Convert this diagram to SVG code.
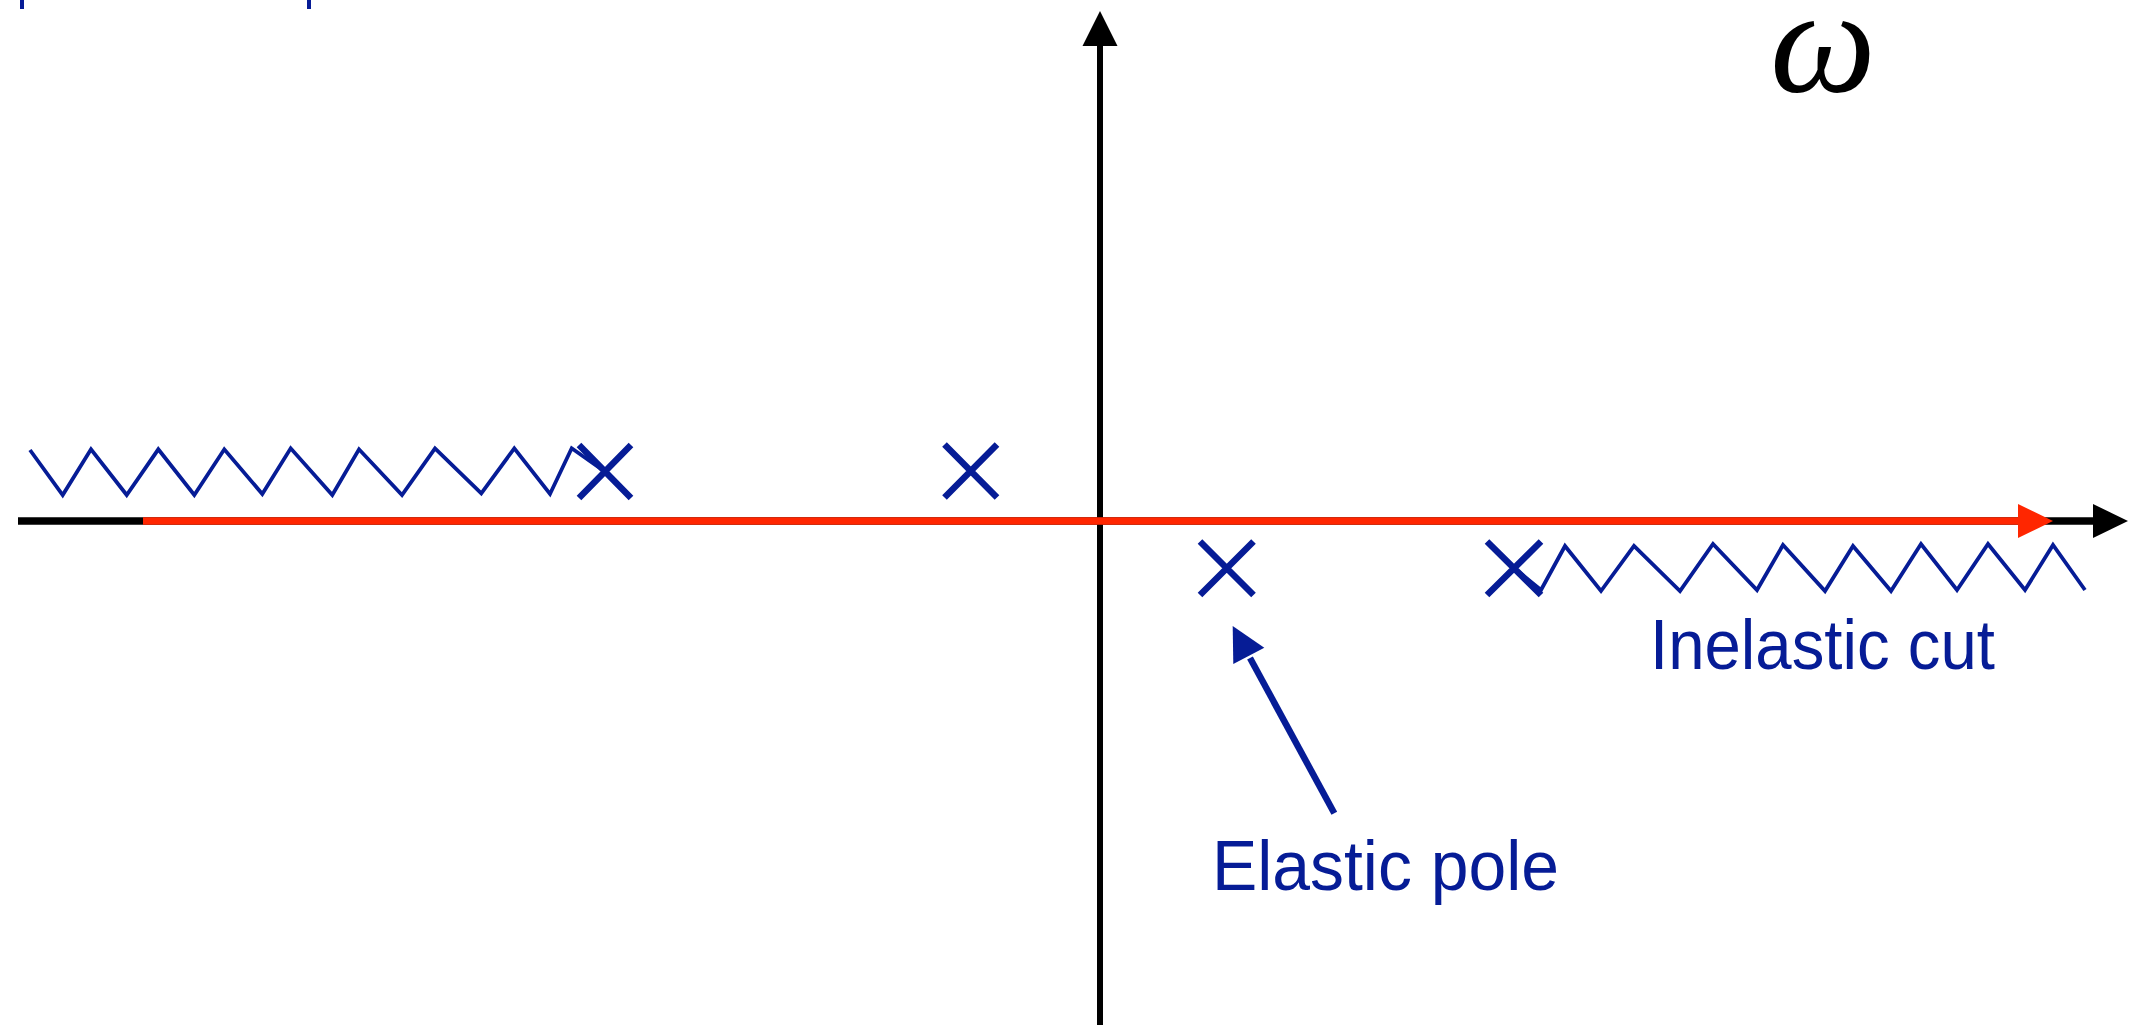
<svg xmlns="http://www.w3.org/2000/svg" width="2132" height="1025" viewBox="0 0 2132 1025">
<style>
.zig{fill:none;stroke:#061c96;stroke-width:3.8;stroke-linejoin:miter}
.pole{stroke:#061c96;stroke-width:6.5;fill:none}
.lbl{font-family:"Liberation Sans",Arial,sans-serif;font-size:71px;fill:#061c96}
.omega{font-family:"Liberation Serif","Times New Roman",serif;font-style:italic;font-size:150px;fill:#000}
</style>
<rect width="2132" height="1025" fill="#fff"/>
<g id="top-ticks" fill="#061c96">
<rect x="20" y="0" width="4" height="9"/>
<rect x="307" y="0" width="4" height="9"/>
</g>
<g id="connectors">
<line x1="18" y1="521" x2="2095" y2="521" stroke="#000" stroke-width="7.5"/>
<polygon points="2093,504 2128,521 2093,538" fill="#000"/>
<line x1="1100" y1="1025" x2="1100" y2="44" stroke="#000" stroke-width="6"/>
<polygon points="1082.5,46 1100,11 1117.5,46" fill="#000"/>
<line x1="143" y1="521" x2="2020" y2="521" stroke="#ff2600" stroke-width="7.5"/>
<polygon points="2018,504 2053,521 2018,538" fill="#ff2600"/>
<line x1="1334.3" y1="813.3" x2="1250" y2="658" stroke="#061c96" stroke-width="6.5"/>
<polygon points="1232.7,626 1233.3,664 1264.3,647.7" fill="#061c96"/>
</g>
<g id="left-cut">
<polyline class="zig" points="30,450 62.7,495 91,449.3 126.7,495 158.3,449.3 194.3,495 224.3,449.3 262.3,494 290.7,448.3 332.3,495 359,449.3 402,495 435,448.3 481.3,493.3 514.3,448.3 550,494 571.7,448.3 605,471.7"/>
</g>
<g id="right-cut">
<polyline class="zig" points="1514,568 1541,590 1565,546 1601,591 1634,546 1680,591 1713,544 1757,590 1783,545 1825,591 1853,546 1891,591 1921,544 1957,590 1988,544 2025,590 2053,545 2085,590"/>
</g>
<g id="pole1"><path class="pole" d="M579,445 L631,498 M631,445 L579,498"/></g>
<g id="pole2"><path class="pole" d="M944.5,444.5 L997,497.5 M997,444.5 L944.5,497.5"/></g>
<g id="pole3"><path class="pole" d="M1200,541.5 L1253.5,595 M1253.5,541.5 L1200,595"/></g>
<g id="pole4"><path class="pole" d="M1487,541.5 L1541,595 M1541,541.5 L1487,595"/></g>
<g id="label-omega"><text class="omega" x="1770" y="92">ω</text></g>
<g id="label-inelastic"><text class="lbl" x="1650" y="669" textLength="345" lengthAdjust="spacingAndGlyphs">Inelastic cut</text></g>
<g id="label-elastic"><text class="lbl" x="1212" y="890" textLength="347" lengthAdjust="spacingAndGlyphs">Elastic pole</text></g>
</svg>
